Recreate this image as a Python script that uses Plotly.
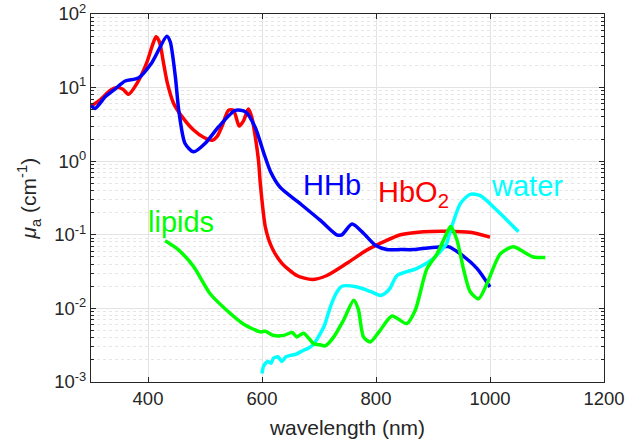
import plotly.graph_objects as go

# ---------------- data ----------------
hbo2_wl = [300, 316, 334, 346, 356, 366, 381, 398, 408, 414, 420, 428, 434, 445, 460, 480, 498, 513, 521,
           530, 541, 550, 560, 568, 576, 582, 588, 594, 597, 606, 617, 635, 661, 688, 714, 749, 784, 813,
           843, 883, 924, 965, 1000]
hbo2_mua = [5.6, 6.8, 9.2, 10, 9.5, 8.1, 11.5, 22, 38, 49, 42, 20, 11.5, 6.1, 4.0, 2.65, 2.1, 1.93, 2.15,
            3.0, 4.9, 4.9, 3.0, 3.6, 5.1, 4.0, 2.2, 1.0, 0.5, 0.126, 0.068, 0.041, 0.028, 0.0247, 0.028,
            0.041, 0.062, 0.08, 0.1, 0.11, 0.112, 0.108, 0.093]

hhb_wl = [300, 307, 325, 343, 360, 383, 407, 433, 439, 448, 454, 465, 480, 500, 524, 553, 571, 588, 603,
          615, 632, 667, 702, 731, 740, 758, 778, 799, 819, 843, 866, 913, 927, 948, 977, 1000]
hhb_mua = [5.7, 5.2, 7.5, 9.7, 12.3, 13.5, 22, 50, 42, 14, 4.9, 1.74, 1.34, 1.74, 2.94, 4.9, 4.7, 2.9, 1.3,
           0.72, 0.44, 0.265, 0.158, 0.1, 0.1, 0.14, 0.105, 0.072, 0.063, 0.063, 0.063, 0.069, 0.069,
           0.055, 0.035, 0.0195]

water_wl = [600, 603, 610, 616, 620, 628, 635, 642, 650, 660, 673, 682, 691, 702, 710, 720, 730, 740, 767,
            790, 808, 818, 825, 837, 872, 901, 915, 924, 930, 948, 965, 983, 1012, 1050]
water_mua = [0.0013, 0.00166, 0.0019, 0.0018, 0.0021, 0.0022, 0.0019, 0.0022, 0.0023, 0.0024, 0.0027,
             0.0029, 0.0033, 0.0045, 0.006, 0.0105, 0.016, 0.020, 0.0195, 0.017, 0.015, 0.0165, 0.019,
             0.028, 0.035, 0.048, 0.062, 0.076, 0.11, 0.265, 0.355, 0.34, 0.215, 0.11]

lipids_wl = [430, 445, 457, 480, 509, 539, 568, 597, 606, 620, 638, 653, 661, 673, 691, 702, 711, 726, 743,
             761, 769, 778, 790, 807, 828, 854, 869, 889, 907, 924, 931, 942, 954, 965, 980, 995, 1018,
             1041, 1060, 1076, 1097]
lipids_mua = [0.083, 0.07, 0.059, 0.037, 0.0158, 0.0093, 0.0061, 0.0048, 0.0049, 0.0043, 0.0043, 0.0047,
              0.0041, 0.0046, 0.0033, 0.0032, 0.0031, 0.0041, 0.0069, 0.0129, 0.0097, 0.0041, 0.0035,
              0.005, 0.0079, 0.0062, 0.0095, 0.034, 0.055, 0.105, 0.13, 0.085, 0.033, 0.017, 0.0135,
              0.022, 0.055, 0.069, 0.058, 0.05, 0.049]

x_ticks = [400, 600, 800, 1000, 1200]
y_ticks = [1e-3, 1e-2, 1e-1, 1e0, 1e1, 1e2]
y_ticktext = ["10<sup>-3</sup>", "10<sup>-2</sup>", "10<sup>-1</sup>", "10<sup>0</sup>",
              "10<sup>1</sup>", "10<sup>2</sup>"]
y_minor = [m * 10 ** e for e in range(-3, 2) for m in range(2, 10)]

# ---------------- figure ----------------
FONT = "Liberation Sans, Arial, Helvetica, sans-serif"
AX = "#262626"

fig = go.Figure()
series = [
    (hbo2_wl, hbo2_mua, "#ff0000", "HbO2"),
    (hhb_wl, hhb_mua, "#0000ff", "HHb"),
    (water_wl, water_mua, "#00ffff", "water"),
    (lipids_wl, lipids_mua, "#00ff00", "lipids"),
]
for xs, ys, c, n in series:
    fig.add_trace(go.Scatter(x=xs, y=ys, mode="lines", name=n,
                             line=dict(color=c, width=3.5, shape="spline", smoothing=0.7)))

fig.update_layout(
    width=627, height=443,
    margin=dict(l=91, r=23, t=14, b=61),
    paper_bgcolor="white", plot_bgcolor="white",
    showlegend=False,
    font=dict(family=FONT, color=AX),
)
fig.update_xaxes(
    range=[300, 1200], tickvals=x_ticks, automargin=False,
    ticks="inside", ticklen=5, tickcolor=AX, tickwidth=1,
    showline=True, linecolor=AX, linewidth=1, mirror="ticks",
    showgrid=True, gridcolor="#e3e3e3", gridwidth=1, zeroline=False,
    tickfont=dict(size=18.5, color=AX, family=FONT),
    title=dict(text="wavelength (nm)", font=dict(size=21, color=AX, family=FONT), standoff=12),
)
fig.update_yaxes(
    type="log", range=[-3, 2], tickvals=y_ticks, ticktext=y_ticktext, automargin=False,
    ticks="inside", ticklen=5, tickcolor=AX, tickwidth=1,
    showline=True, linecolor=AX, linewidth=1, mirror="ticks",
    showgrid=True, gridcolor="#e3e3e3", gridwidth=1, zeroline=False,
    tickfont=dict(size=18.5, color=AX, family=FONT),
    minor=dict(tickvals=y_minor, ticks="inside", ticklen=3, tickcolor=AX,
               showgrid=True, gridcolor="#e6e6e6", griddash="dot", gridwidth=1),
)

fig.add_annotation(text="<i>μ</i><sub>a</sub> (cm<sup>-1</sup>)", xref="paper", yref="paper",
                   x=-0.122, y=0.5, xanchor="center", yanchor="middle", textangle=-90,
                   showarrow=False, font=dict(size=21, color=AX, family=FONT))

labels = [
    ("HHb", 722, -0.33, "#0000ff", "center"),
    ("HbO<sub>2</sub>", 800, -0.45, "#ff0000", "left"),
    ("water", 1065, -0.34, "#00ffff", "center"),
    ("lipids", 458, -0.83, "#00ff00", "center"),
]
for t, x, y, c, xa in labels:
    fig.add_annotation(text=t, x=x, y=y, xref="x", yref="y", xanchor=xa, yanchor="middle",
                       showarrow=False, font=dict(size=29, color=c, family=FONT))

fig.write_html("out.html")
